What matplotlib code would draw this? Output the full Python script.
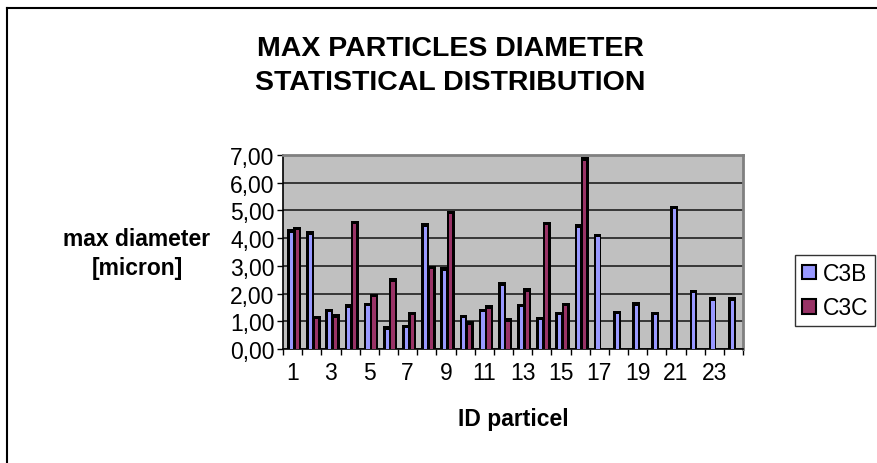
import matplotlib
matplotlib.use("Agg")
import matplotlib.pyplot as plt
import matplotlib.patches as mpatches
from matplotlib.lines import Line2D
import numpy as np

plt.rcParams["font.family"] = ["Liberation Sans", "DejaVu Sans"]

# data
particle_ids = list(range(1, 25))
c3b = [4.20, 4.13, 1.33, 1.49, 1.54, 0.69, 0.75, 4.40, 2.83, 1.11, 1.32, 2.29,
       1.51, 1.04, 1.22, 4.37, 4.03, 1.25, 1.55, 1.22, 5.04, 2.01, 1.74, 1.74]
c3c = [4.29, 1.07, 1.12, 4.50, 1.86, 2.43, 1.22, 2.88, 4.86, 0.87, 1.44, 0.98,
       2.07, 4.46, 1.54, 6.80]
series_names = ["C3B", "C3C"]
colors = ["#9999FF", "#993366"]
y_ticks = [0, 1, 2, 3, 4, 5, 6, 7]
x_labels = [str(i) for i in particle_ids if i % 2 == 1]

W, H = 877, 464
fig = plt.figure(figsize=(W / 100, H / 100), dpi=100)
ax = fig.add_axes([283 / W, 1 - 350 / H, 460 / W, 194 / H])
ax.set_facecolor("#C0C0C0")

x = np.array(particle_ids, dtype=float)
xb = x[:len(c3c)]

# 3D-ish look: black body/shadow behind a narrow coloured front face
cap = 0.13
ax.bar(x - 0.09, np.array(c3b) + cap, width=0.40, color="black", zorder=3)
ax.bar(x - 0.065, c3b, width=0.17, color=colors[0], zorder=4)
ax.bar(xb + 0.25, np.array(c3c) + cap, width=0.42, color="black", zorder=3)
ax.bar(xb + 0.245, c3c, width=0.17, color=colors[1], zorder=4)

ax.set_xlim(0.5, 24.5)
ax.set_ylim(0, 7)
ax.set_yticks(y_ticks)
ax.set_yticklabels([f"{v:.2f}".replace(".", ",") for v in y_ticks], fontsize=16.5)
ax.yaxis.grid(True, color="#202020", linewidth=1.2, zorder=1)
ax.set_axisbelow(True)

ax.set_xticks(np.arange(0.5, 25, 1))
ax.set_xticklabels([])
ax.set_xticks([i for i in particle_ids if i % 2 == 1], minor=True)
ax.set_xticklabels(x_labels, minor=True, fontsize=16.5)
ax.tick_params(axis="x", which="major", direction="out", length=4, width=1)
ax.tick_params(axis="x", which="minor", length=0, pad=9)
ax.tick_params(axis="y", direction="out", length=4, width=1, pad=2)

for s in ["left", "bottom"]:
    ax.spines[s].set_color("black")
    ax.spines[s].set_linewidth(1.2)
for s in ["top", "right"]:
    ax.spines[s].set_color("#808080")
    ax.spines[s].set_linewidth(2)

fig.text(450 / W, 1 - 66 / H, "MAX PARTICLES DIAMETER\nSTATISTICAL DISTRIBUTION",
         ha="center", va="center", fontsize=20.5, fontweight="bold", linespacing=1.4)
fig.text(137 / W, 1 - 254 / H, "max diameter\n[micron]", ha="center", va="center",
         fontsize=16.5, fontweight="bold", linespacing=1.3, multialignment="center")
fig.text(513 / W, 1 - 420 / H, "ID particel", ha="center", va="center",
         fontsize=16.5, fontweight="bold")

handles = [mpatches.Patch(facecolor=c, edgecolor="black", linewidth=1.5, label=n)
           for c, n in zip(colors, series_names)]
leg = fig.legend(handles=handles, loc="upper left", bbox_to_anchor=(795 / W, 1 - 256 / H),
                 fontsize=16.5, frameon=True, fancybox=False, handlelength=0.6,
                 handleheight=0.6, handletextpad=0.3, borderpad=0.3, labelspacing=0.5,
                 borderaxespad=0)
leg.get_frame().set_edgecolor("black")
leg.get_frame().set_linewidth(1)

# outer chart border (left and top visible)
fig.add_artist(Line2D([7 / W, 7 / W], [-0.01, 1 - 9 / H], color="black", linewidth=1.5))
fig.add_artist(Line2D([7 / W, 1.01], [1 - 9 / H, 1 - 9 / H], color="black", linewidth=1.5))

fig.savefig("out.png", dpi=100)
